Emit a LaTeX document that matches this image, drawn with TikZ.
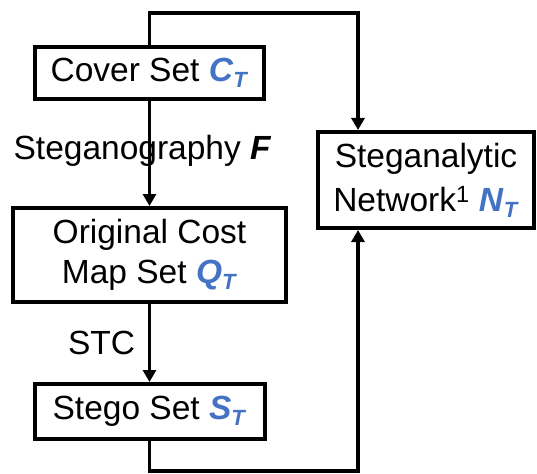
\documentclass[tikz,border=0pt]{standalone}
\usepackage{fontspec}
\setmainfont{Liberation Sans}
\usetikzlibrary{arrows.meta}
\definecolor{varblue}{HTML}{4472C4}
% bold italic blue set symbol with a lowered subscript
\newcommand{\setsym}[2]{{\color{varblue}\textbf{\textit{#1}}\raisebox{-6pt}{\fontsize{22}{22}\selectfont\textbf{\textit{#2}}}}}
\begin{document}
\begin{tikzpicture}[x=1pt,y=-1pt,
  blockbox/.style={draw, line width=4pt, inner sep=0pt, align=center,
    font=\fontsize{33.5}{40}\selectfont},
  flow/.style={line width=3.5pt, -{Triangle[width=13pt,length=12pt]}},
  lbl/.style={font=\fontsize{33.5}{40}\selectfont, inner sep=0pt, anchor=base}]
\useasboundingbox (0,0) rectangle (537,473);

\node[blockbox, minimum width=229pt, minimum height=52pt] (cover) at (149.5,73) {Cover Set \setsym{C}{T}};
\node[blockbox, minimum width=273pt, minimum height=94pt] (cost) at (149.5,255) {Original Cost\\Map Set \setsym{Q}{T}};
\node[blockbox, minimum width=230pt, minimum height=55pt] (stego) at (149.5,411.5) {Stego Set \setsym{S}{T}};
\node[blockbox, minimum width=216pt, minimum height=96pt, font=\fontsize{33.5}{44}\selectfont] (net) at (426,180) {Steganalytic\\Network\textsuperscript{1} \setsym{N}{T}};

\coordinate (topturn) at (358,13);
\coordinate (botturn) at (358,471);

\draw[flow] (cover.south) -- (cost.north);
\draw[flow] (cost.south) -- (stego.north);
\draw[flow] (cover.north) |- (topturn) -- (topturn |- net.north);
\draw[flow] (stego.south) |- (botturn) -- (botturn |- net.south);

\node[lbl] (steglbl) at (142.5,160) {Steganography \textbf{\textit{F}}};
\node[lbl] (stclbl) at (101.5,354) {STC};
\end{tikzpicture}
\end{document}
